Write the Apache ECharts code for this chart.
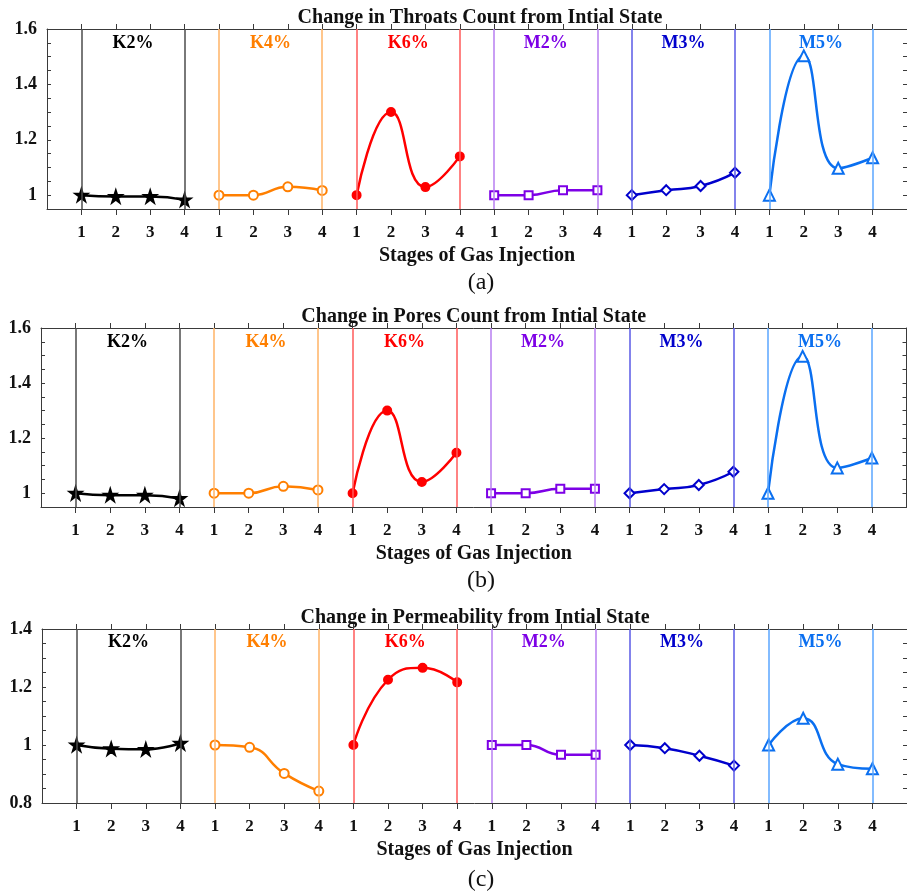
<!DOCTYPE html>
<html>
<head>
<meta charset="utf-8">
<title>Change from Intial State</title>
<script src="https://cdn.jsdelivr.net/npm/echarts@6/dist/echarts.min.js"></script>
<style>
  html, body { margin: 0; padding: 0; background: #ffffff; }
  #chart { width: 907px; height: 896px; }
</style>
</head>
<body>
<div id="chart"></div>
<script>
// ---- data ----
const stages = [1, 2, 3, 4];
const groups = ['K2%', 'K4%', 'K6%', 'M2%', 'M3%', 'M5%'];

// ratio to initial state, one row per group, one value per stage
const throatsRatio = [
  [1.000, 0.995, 0.995, 0.983],
  [1.000, 1.000, 1.030, 1.017],
  [1.000, 1.300, 1.029, 1.140],
  [1.000, 1.000, 1.018, 1.018],
  [1.000, 1.018, 1.033, 1.081],
  [1.000, 1.503, 1.097, 1.135]
];
const poresRatio = [
  [1.000, 0.993, 0.993, 0.981],
  [1.000, 1.000, 1.025, 1.012],
  [1.000, 1.300, 1.041, 1.147],
  [1.000, 1.000, 1.016, 1.016],
  [1.000, 1.015, 1.030, 1.078],
  [1.000, 1.497, 1.092, 1.128]
];
const permeabilityRatio = [
  [1.000, 0.987, 0.985, 1.006],
  [1.000, 0.992, 0.902, 0.841],
  [1.000, 1.225, 1.266, 1.216],
  [1.000, 1.000, 0.966, 0.966],
  [1.000, 0.989, 0.963, 0.929],
  [1.000, 1.092, 0.934, 0.918]
];

// y-axis ticks
const yLabelsA = [1, 1.2, 1.4, 1.6];
const yTicksA = [0.95, 1, 1.05, 1.1, 1.15, 1.2, 1.25, 1.3, 1.35, 1.4, 1.45, 1.5, 1.55, 1.6];
const yLabelsB = [1, 1.2, 1.4, 1.6];
const yTicksB = [0.95, 1, 1.05, 1.1, 1.15, 1.2, 1.25, 1.3, 1.35, 1.4, 1.45, 1.5, 1.55, 1.6];
const yLabelsC = [0.8, 1, 1.2, 1.4];
const yTicksC = [0.8, 0.85, 0.9, 0.95, 1, 1.05, 1.1, 1.15, 1.2, 1.25, 1.3, 1.35, 1.4];

// ---- styling ----
const FONT = '"Liberation Serif", "Times New Roman", serif';
const lineColors = ['#000000', '#ff7f00', '#ff0000', '#7d00e6', '#0000cc', '#0a6ff0'];
const guideColors = ['#4d4d4d', '#ffb366', '#ff5a5a', '#b77ef0', '#5a5ae6', '#5aa6ff'];
const starPath = 'path://M50,0 L61.2,34.5 L97.6,34.5 L68.2,55.9 L79.4,90.5 L50,69.1 L20.6,90.5 L31.8,55.9 L2.4,34.5 L38.8,34.5 Z';
const symbols = [starPath, 'emptyCircle', 'circle', 'emptyRect', 'emptyDiamond', 'emptyTriangle'];
const symbolSizes = [12, 9, 8, 8, 10, 11];

const panels = [
  { title: 'Change in Throats Count from Intial State', tag: '(a)', values: throatsRatio,
    min: 0.95, max: 1.6, yLabels: yLabelsA, yTicks: yTicksA, groupLabelY: 1.548,
    grid: { left: 47, top: 29, width: 866, height: 180 }, titleY: 17, tagY: 283 },
  { title: 'Change in Pores Count from Intial State', tag: '(b)', values: poresRatio,
    min: 0.95, max: 1.6, yLabels: yLabelsB, yTicks: yTicksB, groupLabelY: 1.548,
    grid: { left: 41, top: 328, width: 865.5, height: 179 }, titleY: 316, tagY: 581 },
  { title: 'Change in Permeability from Intial State', tag: '(c)', values: permeabilityRatio,
    min: 0.8, max: 1.4, yLabels: yLabelsC, yTicks: yTicksC, groupLabelY: 1.353,
    grid: { left: 42, top: 629, width: 866, height: 174 }, titleY: 617, tagY: 880 }
];

// x positions: each group occupies four consecutive slots on one shared axis
const xPositions = [];
const xStageLabel = {};
groups.forEach((g, gi) => stages.forEach(s => {
  const x = gi * 4 + s;
  xPositions.push(x);
  xStageLabel[x] = String(s);
}));

const axisColor = '#3a3a3a';
const grids = [], xAxes = [], yAxes = [], series = [], graphics = [];

panels.forEach((p, pi) => {
  grids.push(Object.assign({ containLabel: false }, p.grid));

  // bottom axis with stage labels
  xAxes.push({
    type: 'value', gridIndex: pi, position: 'bottom', min: 0, max: 25, interval: 1,
    name: 'Stages of Gas Injection', nameLocation: 'middle', nameGap: 37,
    nameTextStyle: { fontFamily: FONT, fontWeight: 'bold', fontSize: 20, color: '#111' },
    axisLine: { show: true, onZero: false, lineStyle: { color: axisColor, width: 1 } },
    axisTick: { show: true, inside: false, length: 6, customValues: xPositions,
      lineStyle: { color: axisColor } },
    axisLabel: { show: true, customValues: xPositions, margin: 15,
      formatter: v => xStageLabel[Math.round(v)] || '',
      fontFamily: FONT, fontWeight: 'bold', fontSize: 17, color: '#111' },
    splitLine: { show: false }
  });
  // top frame
  xAxes.push({
    type: 'value', gridIndex: pi, position: 'top', min: 0, max: 25, interval: 1,
    axisLine: { show: true, onZero: false, lineStyle: { color: axisColor, width: 1 } },
    axisTick: { show: true, inside: false, length: 5, customValues: xPositions,
      lineStyle: { color: axisColor } },
    axisLabel: { show: false },
    splitLine: { show: false }
  });
  // left axis with labels
  yAxes.push({
    type: 'value', gridIndex: pi, position: 'left', min: p.min, max: p.max,
    axisLine: { show: true, onZero: false, lineStyle: { color: axisColor, width: 1 } },
    axisTick: { show: true, inside: true, length: 4, customValues: p.yTicks,
      lineStyle: { color: axisColor } },
    axisLabel: { show: true, customValues: p.yLabels, margin: 10,
      formatter: v => String(+v.toFixed(2)),
      fontFamily: FONT, fontWeight: 'bold', fontSize: 18, color: '#111' },
    splitLine: { show: false }
  });
  // right frame
  yAxes.push({
    type: 'value', gridIndex: pi, position: 'right', min: p.min, max: p.max,
    axisLine: { show: true, onZero: false, lineStyle: { color: axisColor, width: 1 } },
    axisTick: { show: true, inside: true, length: 4, customValues: p.yTicks,
      lineStyle: { color: axisColor } },
    axisLabel: { show: false },
    splitLine: { show: false }
  });

  const xi = pi * 2, yi = pi * 2;

  groups.forEach((g, gi) => {
    series.push({
      type: 'line', name: g, xAxisIndex: xi, yAxisIndex: yi,
      data: stages.map((s, k) => [gi * 4 + s, p.values[gi][k]]),
      smooth: 0.5,
      symbol: symbols[gi], symbolSize: symbolSizes[gi], showAllSymbol: true,
      lineStyle: { color: lineColors[gi], width: 2.5 },
      itemStyle: { color: lineColors[gi], borderColor: lineColors[gi], borderWidth: 2 },
      z: 3,
      markLine: {
        silent: true, symbol: 'none', animation: false,
        label: { show: false },
        lineStyle: { color: guideColors[gi], width: 1.5, type: 'solid', opacity: 1 },
        data: [{ xAxis: gi * 4 + stages[0] }, { xAxis: gi * 4 + stages[stages.length - 1] }]
      }
    });
  });

  // group captions
  series.push({
    type: 'scatter', xAxisIndex: xi, yAxisIndex: yi, silent: true,
    symbolSize: 1, itemStyle: { color: 'transparent', opacity: 1 }, z: 4,
    data: groups.map((g, gi) => ({
      value: [gi * 4 + 2.5, p.groupLabelY],
      label: { color: lineColors[gi] }
    })),
    label: {
      show: true, position: 'inside', opacity: 1,
      formatter: prm => groups[prm.dataIndex],
      fontFamily: FONT, fontWeight: 'bold', fontSize: 18
    }
  });

  graphics.push({
    type: 'text', x: p.grid.left + p.grid.width / 2, y: p.titleY + 1,
    style: { text: p.title, textAlign: 'center', textVerticalAlign: 'middle',
      font: 'bold 20px ' + FONT, fill: '#111' }
  });
  graphics.push({
    type: 'text', x: 481, y: p.tagY,
    style: { text: p.tag, textAlign: 'center', textVerticalAlign: 'middle',
      font: '24px ' + FONT, fill: '#111' }
  });
});

const chart = echarts.init(document.getElementById('chart'), null, { renderer: 'canvas' });
chart.setOption({
  animation: false,
  backgroundColor: '#ffffff',
  grid: grids,
  xAxis: xAxes,
  yAxis: yAxes,
  series: series,
  graphic: graphics
});
</script>
</body>
</html>
